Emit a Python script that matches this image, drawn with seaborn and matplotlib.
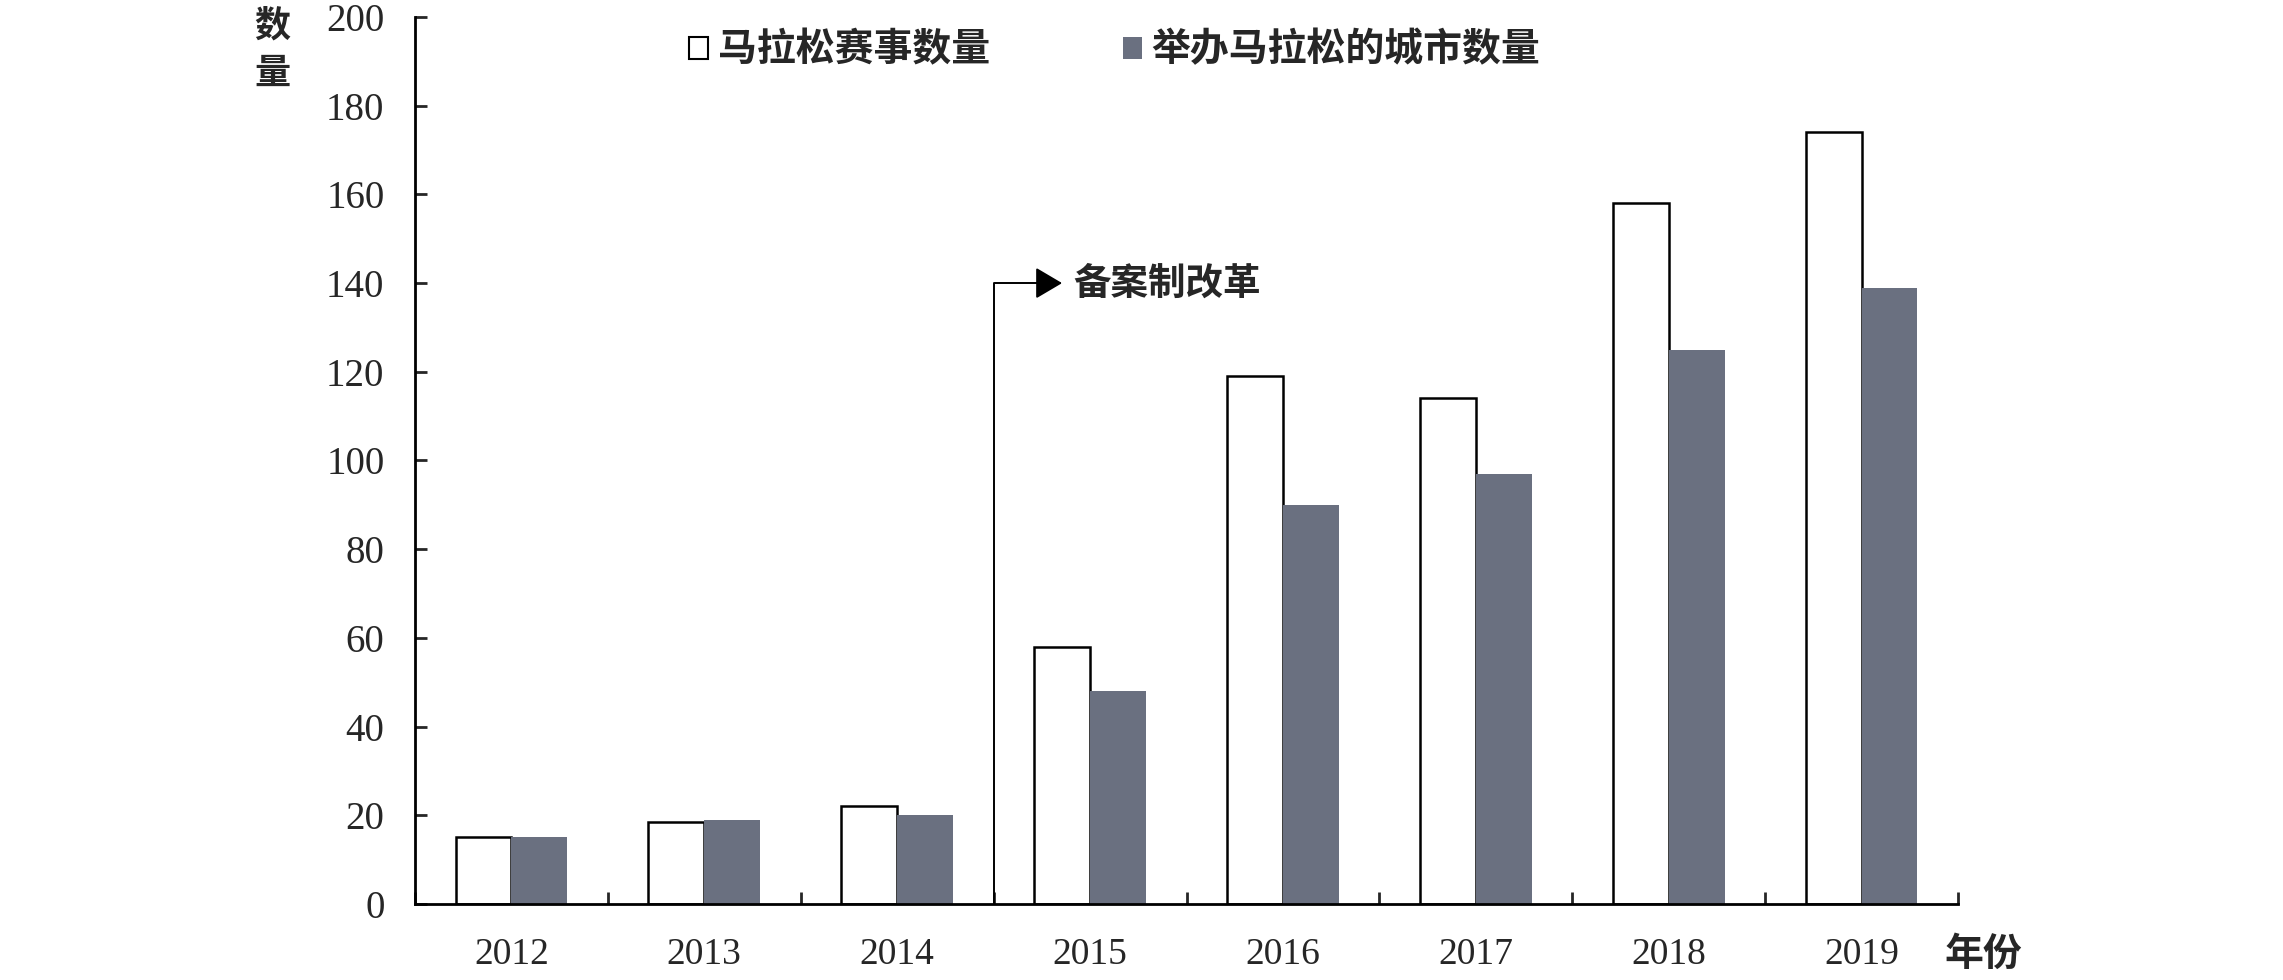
import matplotlib
matplotlib.use("Agg")
import matplotlib.pyplot as plt
import matplotlib.patches as mpatches
import numpy as np
import pandas as pd
import seaborn as sns

# ── Data ──────────────────────────────────────────────────────────────────────
years = ["2012", "2013", "2014", "2015", "2016", "2017", "2018", "2019"]
race_counts = [15, 18.5, 22, 58, 119, 114, 158, 174]
city_counts = [15, 19, 20, 48, 90, 97, 125, 139]
series_names = ["马拉松赛事数量", "举办马拉松的城市数量"]
y_ticks = [0, 20, 40, 60, 80, 100, 120, 140, 160, 180, 200]
reform_year = "2015"
reform_level = 140
reform_label = "备案制改革"

CJK = ["Noto Sans CJK SC", "DejaVu Sans"]
GRAY = "#6a7080"

sns.set_theme(style="white")
plt.rcParams["font.family"] = ["Liberation Serif", "Noto Sans CJK SC", "DejaVu Sans"]

df = pd.DataFrame({
    "year": years * 2,
    "value": race_counts + city_counts,
    "series": [series_names[0]] * len(years) + [series_names[1]] * len(years),
})

fig = plt.figure(figsize=(22.83, 9.8), dpi=100)
ax = fig.add_axes([415 / 2283, 1 - 904 / 980, (1958 - 415) / 2283, (904 - 17) / 980])

sns.barplot(
    data=df, x="year", y="value", hue="series",
    palette={series_names[0]: "white", series_names[1]: GRAY},
    width=0.58, gap=0, saturation=1, legend=False, ax=ax,
)

# white bars get a black outline, grey bars none
for bar in ax.containers[0]:
    bar.set_edgecolor("black")
    bar.set_linewidth(1.8)
for bar in ax.containers[1]:
    bar.set_edgecolor("none")
    bar.set_linewidth(0)

ax.set_xlim(-0.5, len(years) - 0.5)
ax.set_ylim(0, 200)
ax.set_yticks(y_ticks)
ax.set_yticklabels([str(v) for v in y_ticks], fontsize=28)
ax.set_xticks(np.arange(len(years)))
ax.set_xticklabels(years, fontsize=27)
ax.set_xticks(np.arange(-0.5, len(years), 1), minor=True)
ax.set_xlabel("")
ax.set_ylabel("")

ax.tick_params(axis="x", which="major", length=0, pad=24)
ax.tick_params(axis="x", which="minor", direction="in", length=8.5, width=2, bottom=True)
ax.tick_params(axis="y", which="major", direction="in", length=8.5, width=2, pad=22, left=True)

sns.despine(ax=ax)
for side in ("left", "bottom"):
    ax.spines[side].set_linewidth(2)
    ax.spines[side].set_color("black")

# reform annotation: elbow arrow from the axis up to the 2015 boundary level
x_reform = years.index(reform_year) - 0.5
ax.annotate(
    "", xy=(x_reform + 0.355, reform_level), xytext=(x_reform, 0),
    arrowprops=dict(
        arrowstyle="-|>,head_length=0.83,head_width=0.49",
        connectionstyle="angle,angleA=90,angleB=0,rad=0",
        color="black", lw=1.4, mutation_scale=20, shrinkA=0, shrinkB=0,
    ),
)
ax.text(x_reform + 0.415, reform_level, reform_label, family=CJK, weight="bold",
        fontsize=27, va="center", ha="left")

# axis titles
fig.text(272 / 2283, 1 - 26 / 980, "数", family=CJK, weight="bold", fontsize=26,
         ha="center", va="center")
fig.text(272 / 2283, 1 - 73 / 980, "量", family=CJK, weight="bold", fontsize=26,
         ha="center", va="center")
fig.text(1983 / 2283, 1 - 954 / 980, "年份", family=CJK, weight="bold", fontsize=28,
         ha="center", va="center")

# legend
handles = [
    mpatches.Patch(facecolor="white", edgecolor="black", linewidth=1.5, label=series_names[0]),
    mpatches.Patch(facecolor=GRAY, edgecolor="none", label=series_names[1]),
]
fig.legend(
    handles=handles, loc="center left", bbox_to_anchor=(689 / 2283, 1 - 50 / 980),
    ncol=2, frameon=False, borderpad=0, borderaxespad=0,
    handlelength=0.5, handleheight=0.5, handletextpad=0.25, columnspacing=3.4,
    prop={"family": CJK, "weight": "bold", "size": 28},
)

fig.savefig("out.png", dpi=100)
plt.close(fig)
